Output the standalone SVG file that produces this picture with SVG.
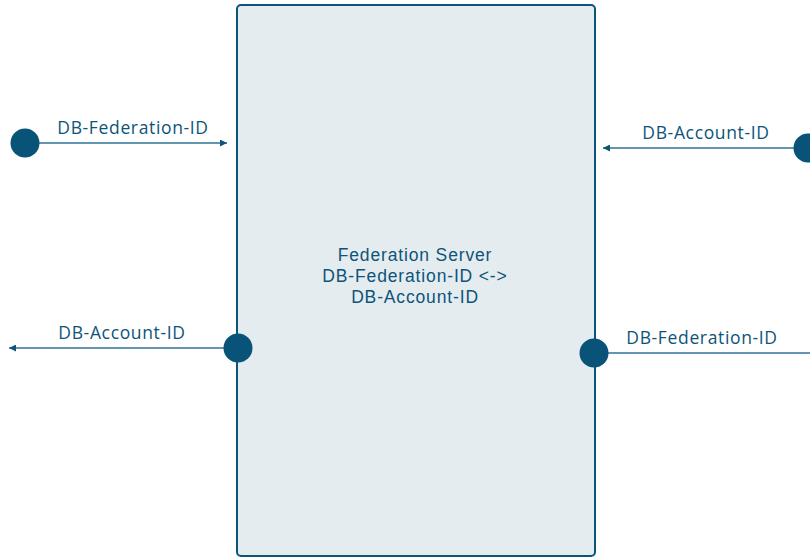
<svg xmlns="http://www.w3.org/2000/svg" width="810" height="558" viewBox="0 0 810 558">
<defs>
<style>
.lbl{font-family:"Open Sans","Liberation Sans",sans-serif;font-size:17.5px;letter-spacing:0.65px;fill:#0d5479;text-anchor:middle}
.ctr{font-family:"Liberation Sans",Arial,sans-serif;font-size:17.5px;letter-spacing:0.85px;fill:#0d5479;text-anchor:middle}
.dot{fill:#0a5378}
.ln{stroke:#2f7398;stroke-width:1.3;fill:none}
</style>
<marker id="ah" viewBox="0 0 10 10" refX="10" refY="5" markerWidth="7" markerHeight="7" markerUnits="userSpaceOnUse" orient="auto">
<path d="M0,0 L10,5 L0,10 z" fill="#0d5479"/>
</marker>
</defs>
<rect width="810" height="558" fill="#ffffff"/>
<g id="server">
<rect x="237" y="5" width="358" height="551" rx="4" fill="#e5ecf0" stroke="#0d5479" stroke-width="2"/>
<text class="ctr" x="415" y="261">Federation Server</text>
<text class="ctr" x="415" y="282">DB-Federation-ID &lt;-&gt;</text>
<text class="ctr" x="415" y="303">DB-Account-ID</text>
</g>
<g id="connectors">
<line class="ln" x1="39" y1="143" x2="227" y2="143" marker-end="url(#ah)"/>
<line class="ln" x1="794" y1="148" x2="603" y2="148" marker-end="url(#ah)"/>
<line class="ln" x1="224" y1="348" x2="9" y2="348" marker-end="url(#ah)"/>
<line class="ln" x1="608" y1="353" x2="810" y2="353"/>
</g>
<g id="in-federation">
<circle class="dot" cx="25" cy="143" r="14.5"/>
<text class="lbl" x="133" y="134">DB-Federation-ID</text>
</g>
<g id="in-account">
<circle class="dot" cx="808" cy="148" r="14.5"/>
<text class="lbl" x="706" y="139">DB-Account-ID</text>
</g>
<g id="out-account">
<circle class="dot" cx="238" cy="348" r="14.5"/>
<text class="lbl" x="122" y="339">DB-Account-ID</text>
</g>
<g id="out-federation">
<circle class="dot" cx="594" cy="353" r="14.5"/>
<text class="lbl" x="702" y="344">DB-Federation-ID</text>
</g>
</svg>
